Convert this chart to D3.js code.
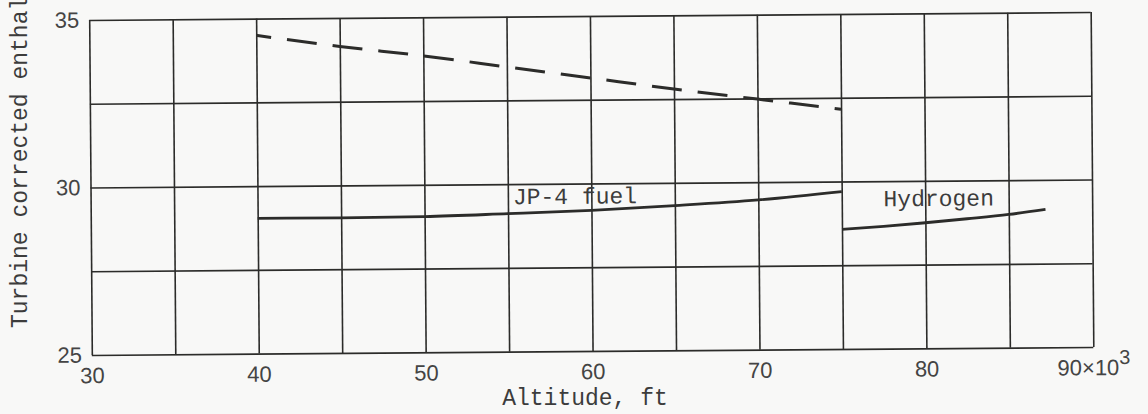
<!DOCTYPE html>
<html>
<head>
<meta charset="utf-8">
<script src="https://cdn.jsdelivr.net/npm/d3@7/dist/d3.min.js"></script>
<style>
  html, body { margin: 0; padding: 0; background: #f8f8f7; }
  svg { display: block; }
  .tick text { font-family: "Liberation Sans", "DejaVu Sans", sans-serif; font-size: 22px; fill: #444; }
  .mono { font-family: "Liberation Mono", "DejaVu Sans Mono", monospace; fill: #3c3c3c; }
</style>
</head>
<body>
<svg id="chart" width="1148" height="414"></svg>
<script>
// Altitude grid (thousands of ft) and labelled ticks
const altitudeGrid = [30, 35, 40, 45, 50, 55, 60, 65, 70, 75, 80, 85, 90];
const altitudeLabels = [30, 40, 50, 60, 70, 80, 90];
// Enthalpy grid and labelled ticks
const enthalpyGrid = [25, 27.5, 30, 32.5, 35];
const enthalpyLabels = [25, 30, 35];

// Dashed curve
const dashedAlt = [40, 45, 50, 55, 60, 65, 70, 75];
const dashedVal = [34.5, 34.15, 33.85, 33.5, 33.15, 32.8, 32.48, 32.16];

// JP-4 fuel curve
const jp4Alt = [40, 45, 50, 55, 60, 65, 70, 75];
const jp4Val = [29.04, 29.03, 29.05, 29.12, 29.2, 29.32, 29.47, 29.7];

// Hydrogen curve
const h2Alt = [75, 77.5, 80, 82.5, 85, 87.2];
const h2Val = [28.57, 28.65, 28.75, 28.86, 28.98, 29.12];

const svg = d3.select("#chart");
svg.append("rect").attr("width", 1148).attr("height", 414).attr("fill", "#f8f8f7");

const plotLeft = 90.5, plotRight = 1092, plotTop = 16, plotBottom = 351;
const x = d3.scaleLinear().domain([30, 90]).range([plotLeft, plotRight]);
const y = d3.scaleLinear().domain([25, 35]).range([plotBottom, plotTop]);

const ink = "#2c2c2a";
// Whole plot sits slightly tilted
const g = svg.append("g")
  .attr("transform", `rotate(-0.45, ${(plotLeft + plotRight) / 2}, ${(plotTop + plotBottom) / 2})`);

// Vertical grid lines + altitude labels
const xAxis = d3.axisBottom(x)
  .tickValues(altitudeGrid)
  .tickSize(-(plotBottom - plotTop))
  .tickPadding(9)
  .tickFormat(d => altitudeLabels.includes(d) && d !== 90 ? d : "");
const gx = g.append("g").attr("transform", `translate(0,${plotBottom})`).call(xAxis);
gx.select(".domain").remove();
gx.selectAll(".tick line").attr("stroke", ink).attr("stroke-width", 1.6);
gx.selectAll(".tick text").attr("dy", "0.87em");

// Label at 90 with the ×10³ multiplier
const last = gx.selectAll(".tick").filter(d => d === 90).select("text");
last.text(null).attr("text-anchor", "middle");
last.append("tspan").text("90×10");
last.append("tspan").attr("dy", -11).attr("font-size", 20).text("3");

// Horizontal grid lines + enthalpy labels
const yAxis = d3.axisLeft(y)
  .tickValues(enthalpyGrid)
  .tickSize(-(plotRight - plotLeft))
  .tickPadding(10)
  .tickFormat(d => enthalpyLabels.includes(d) ? d : "");
const gy = g.append("g").attr("transform", `translate(${plotLeft},0)`).call(yAxis);
gy.select(".domain").remove();
gy.selectAll(".tick line").attr("stroke", ink).attr("stroke-width", 1.6);

// Curves
const line = d3.line()
  .x(d => x(d[0]))
  .y(d => y(d[1]))
  .curve(d3.curveMonotoneX);

g.append("path")
  .datum(d3.zip(dashedAlt, dashedVal))
  .attr("d", line)
  .attr("fill", "none")
  .attr("stroke", ink)
  .attr("stroke-width", 3)
  .attr("stroke-dasharray", "30 16")
  .attr("stroke-dashoffset", 15);

g.append("path")
  .datum(d3.zip(jp4Alt, jp4Val))
  .attr("d", line)
  .attr("fill", "none")
  .attr("stroke", ink)
  .attr("stroke-width", 2.8);

g.append("path")
  .datum(d3.zip(h2Alt, h2Val))
  .attr("d", line)
  .attr("fill", "none")
  .attr("stroke", ink)
  .attr("stroke-width", 2.8);

// Curve labels
g.append("text").attr("class", "mono")
  .attr("x", x(55.3)).attr("y", y(29.4))
  .attr("font-size", 23)
  .text("JP-4 fuel");

g.append("text").attr("class", "mono")
  .attr("x", x(77.5)).attr("y", y(29.25))
  .attr("font-size", 23)
  .text("Hydrogen");

// Axis titles
svg.append("text").attr("class", "mono")
  .attr("x", 585).attr("y", 405)
  .attr("text-anchor", "middle")
  .attr("font-size", 23)
  .text("Altitude, ft");

svg.append("text").attr("class", "mono")
  .attr("transform", "translate(27,328) rotate(-90)")
  .attr("font-size", 23)
  .text("Turbine corrected enthalpy drop, Btu/lb");
</script>
</body>
</html>
